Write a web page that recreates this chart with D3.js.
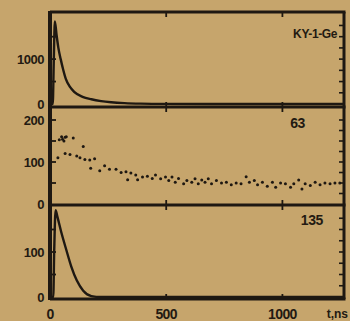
<!DOCTYPE html>
<html>
<head>
<meta charset="utf-8">
<script src="https://cdn.jsdelivr.net/npm/d3@7"></script>
<style>
  html, body { margin: 0; padding: 0; background: #c6a56c; }
  svg { display: block; }
  text { font-family: "Liberation Sans", Arial, sans-serif; font-weight: bold; fill: #231a12; }
</style>
</head>
<body>
<div id="chart"></div>
<script>
// time axis (ns)
const xTicks = [0, 500, 1000];

// top panel: KY-1-Ge
const tTop = [0, 12, 16, 21, 28, 36, 46, 56, 68, 86, 104, 140, 178, 220, 263, 320, 390, 500, 700, 1265];
const countTop = [0, 0, 900, 1840, 1550, 1250, 1000, 780, 560, 380, 270, 160, 105, 65, 40, 20, 8, 2, 0, 0];

// middle panel: 63 (scatter)
const tMid = [34, 40, 50, 54, 60, 65, 65, 70, 86, 100, 115, 129, 143, 150, 171, 175, 192, 214, 235, 256, 284, 306, 327, 334, 348, 369, 377, 398, 419, 440, 454, 476, 497, 511, 525, 539, 553, 575, 589,
  610, 624, 638, 653, 667, 681, 695, 716, 738, 759, 780, 801, 822, 844, 858, 879, 893, 914, 935, 957, 971, 992, 1013, 1035, 1049, 1070, 1084, 1098, 1120, 1141, 1162, 1183, 1205, 1226, 1247];
const countMid = [110, 153, 160, 154, 150, 159, 120, 160, 118, 157, 114, 110, 137, 106, 105, 85, 108, 79, 91, 83, 83, 75, 77, 58, 74, 69, 58, 64, 66, 61, 69, 60, 64, 56, 64, 52, 61, 48, 56,
  52, 60, 48, 57, 52, 60, 48, 56, 50, 52, 46, 50, 48, 65, 52, 56, 46, 52, 42, 52, 40, 50, 48, 40, 48, 57, 36, 48, 44, 52, 46, 50, 48, 50, 50];

// bottom panel: 135
const tBot = [0, 14, 18, 24, 32, 48, 70, 92, 115, 143, 178, 220, 1265];
const countBot = [0, 0, 100, 193, 178, 145, 105, 67, 37, 14, 2, 0, 0];

const panelLabels = ["KY-1-Ge", "63", "135"];
const yTickLabels = [[0, 1000], [0, 100, 200], [0, 100]];

const W = 350, H = 321;
const left = 50, right = 344;
const ink = "#1e1812";

const svg = d3.select("#chart").append("svg")
  .attr("width", W).attr("height", H);

const x = d3.scaleLinear().domain([0, 1265]).range([left, right]);

const panels = [
  { top: 12, bottom: 107, y: d3.scaleLinear().domain([0, 2050]).range([104, 12]), minor: 250, inner: 500 },
  { top: 107, bottom: 205, y: d3.scaleLinear().domain([0, 200]).range([204, 120]), minor: 25, inner: 50 },
  { top: 205, bottom: 299, y: d3.scaleLinear().domain([0, 200]).range([297, 207]), minor: 25, inner: 50 }
];

panels.forEach((p, i) => {
  const g = svg.append("g");

  // right side minor ticks
  const rTicks = d3.range(p.minor, p.y.invert(p.top), p.minor).filter(v => p.y(v) > p.top + 3 && p.y(v) < p.bottom - 3);
  g.selectAll(".rt").data(rTicks).enter().append("line")
    .attr("x1", right - 5).attr("x2", right)
    .attr("y1", d => p.y(d)).attr("y2", d => p.y(d))
    .attr("stroke", ink).attr("stroke-width", 1.6);

  // left ticks
  const lTicks = d3.range(p.inner, p.y.invert(p.top), p.inner).filter(v => p.y(v) > p.top + 3 && p.y(v) < p.bottom - 3);
  g.selectAll(".lt").data(lTicks).enter().append("line")
    .attr("x1", left).attr("x2", left + 6)
    .attr("y1", d => p.y(d)).attr("y2", d => p.y(d))
    .attr("stroke", ink).attr("stroke-width", 1.8);

  // top/bottom ticks at 500, 1000
  [p.top, p.bottom].forEach((yy, k) => {
    g.selectAll(".tt" + k).data([500, 1000]).enter().append("line")
      .attr("x1", d => x(d)).attr("x2", d => x(d))
      .attr("y1", yy).attr("y2", k === 0 ? yy + 5 : yy - 5)
      .attr("stroke", ink).attr("stroke-width", 1.8);
  });

  // y labels
  g.selectAll(".yl").data(yTickLabels[i]).enter().append("text")
    .attr("x", 44).attr("y", d => p.y(d))
    .attr("dy", "0.36em")
    .attr("text-anchor", "end")
    .style("font-size", "13px")
    .style("letter-spacing", "-0.5px")
    .text(d => d);

  // frame (top)
  g.append("line").attr("x1", left).attr("x2", right + 1.5)
    .attr("y1", p.top).attr("y2", p.top)
    .attr("stroke", ink).attr("stroke-width", 3);
});

// bottom border
svg.append("line").attr("x1", left).attr("x2", right + 1.5)
  .attr("y1", 299).attr("y2", 299)
  .attr("stroke", ink).attr("stroke-width", 3);
// right border
svg.append("line").attr("x1", right).attr("x2", right)
  .attr("y1", 12).attr("y2", 299)
  .attr("stroke", ink).attr("stroke-width", 3);

// curves
const line = (p) => d3.line()
  .x(d => x(d[0])).y(d => p.y(d[1]))
  .curve(d3.curveMonotoneX);

svg.append("path")
  .datum(d3.zip(tTop, countTop))
  .attr("d", line(panels[0]))
  .attr("fill", "none").attr("stroke", ink).attr("stroke-width", 2.4);

svg.append("path")
  .datum(d3.zip(tBot, countBot))
  .attr("d", line(panels[2]))
  .attr("fill", "none").attr("stroke", ink).attr("stroke-width", 2.4);

svg.append("g").selectAll("circle")
  .data(d3.zip(tMid, countMid))
  .enter().append("circle")
  .attr("cx", d => x(d[0])).attr("cy", d => panels[1].y(d[1]))
  .attr("r", 1.5)
  .attr("fill", ink);

// left axis line
svg.append("line").attr("x1", left).attr("x2", left)
  .attr("y1", 11).attr("y2", 300)
  .attr("stroke", ink).attr("stroke-width", 4);

// x axis labels
svg.append("g").selectAll("text")
  .data(xTicks).enter().append("text")
  .attr("x", d => x(d)).attr("y", 319)
  .attr("text-anchor", "middle")
  .style("font-size", "14px")
  .style("letter-spacing", "-0.6px")
  .text(d => d);

svg.append("text")
  .attr("x", 348).attr("y", 318)
  .attr("text-anchor", "end")
  .style("font-size", "12px")
  .text("t,ns");

// panel labels
const labelPos = [[337, 38], [305, 128], [323, 225]];
svg.append("g").selectAll("text")
  .data(panelLabels).enter().append("text")
  .attr("x", (d, i) => labelPos[i][0]).attr("y", (d, i) => labelPos[i][1])
  .attr("text-anchor", "end")
  .style("font-size", (d, i) => i === 0 ? "12px" : "14px")
  .style("letter-spacing", "-0.4px")
  .text(d => d);
</script>
</body>
</html>
